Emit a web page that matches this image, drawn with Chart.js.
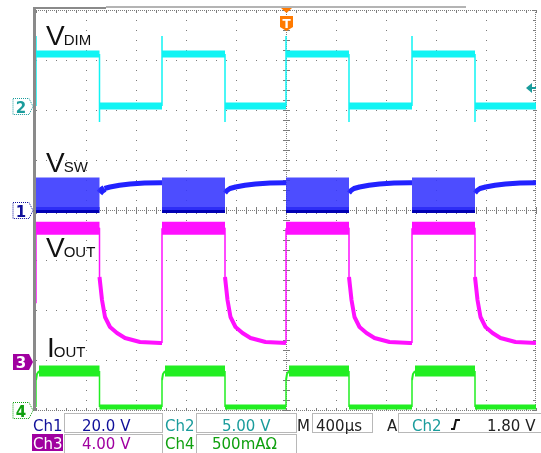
<!DOCTYPE html>
<html>
<head>
<meta charset="utf-8">
<script src="https://cdn.jsdelivr.net/npm/chart.js@4.4.1/dist/chart.umd.min.js"></script>
<style>
  html, body { margin: 0; padding: 0; background: #fff; }
  canvas { display: block; }
</style>
</head>
<body>
<canvas id="scope" width="541" height="453"></canvas>
<script>
// time axis: 400 us/div, 10 div, trigger at centre
const gridCols = [-2000, -1600, -1200, -800, -400, 0, 400, 800, 1200, 1600, 2000];
// vertical divisions, expressed in Ch1 volts (20 V/div, ground at centre)
const gridRows = [-80, -60, -40, -20, 0, 20, 40, 60, 80];

// DIM edges in us
const dimRise = [-2000, -992, 0, 1008];
const dimFall = [-1492, -488, 504, 1512];
const tEnd = 2000;

// Ch2 VDIM, volts
const dimHigh = 5.2;
const dimLow = 0;
const dimOvershoot = 7.0;
const dimUndershoot = -1.6;

// Ch1 VSW, volts
const swBurstTop = 13.0;
const swOffT = [0, 16, 40, 84, 160, 244, 360, 488];      // us after DIM falls
const swOffV = [6.8, 7.8, 8.6, 9.2, 9.9, 10.4, 10.8, 10.9];

// Ch3 VOUT, volts
const outHigh = 10.7;
const outStart = 4.7;
const outDecayT = [0, 20, 44, 84, 140, 204, 324, 488];   // us after DIM falls
const outDecayV = [6.8, 4.96, 3.6, 2.8, 2.32, 1.92, 1.6, 1.52];

// Ch4 IOUT, amps
const ioutHigh = 0.39;
const ioutLow = 0.03;
const ioutRiseT = [0, 8, 24];
const ioutRiseV = [0.3, 0.36, 0.39];

// ---- build traces from the edge lists ----
const nextRise = i => (i + 1 < dimRise.length ? dimRise[i + 1] : tEnd);

const dimPts = [];
const burstPts = [];
const burstBase = [];
const swOffPts = [];
const outPts = [];
const ioutPts = [];

dimRise.forEach((r, i) => {
  const f = dimFall[i], n = nextRise(i);
  dimPts.push({x: r, y: dimLow}, {x: r, y: dimOvershoot}, {x: r, y: dimHigh},
              {x: f, y: dimHigh}, {x: f, y: dimUndershoot}, {x: f, y: dimLow}, {x: n, y: dimLow});

  burstPts.push({x: r, y: 0}, {x: r, y: swBurstTop}, {x: f, y: swBurstTop}, {x: f, y: 0});
  burstBase.push({x: r, y: 0}, {x: f, y: 0}, {x: f, y: null});

  swOffT.forEach((t, k) => { if (f + t < n) swOffPts.push({x: f + t, y: swOffV[k]}); });
  swOffPts.push({x: n, y: swOffV[swOffV.length - 1]}, {x: n, y: null});

  if (i === 0) outPts.push({x: r, y: outStart});
  outPts.push({x: r, y: outHigh}, {x: f, y: outHigh});
  outDecayT.forEach((t, k) => { if (f + t < n) outPts.push({x: f + t, y: outDecayV[k]}); });
  outPts.push({x: n, y: outDecayV[outDecayV.length - 1]});

  ioutPts.push({x: r, y: ioutLow});
  ioutRiseT.forEach((t, k) => ioutPts.push({x: r + t, y: ioutRiseV[k]}));
  ioutPts.push({x: f, y: ioutHigh}, {x: f, y: ioutLow}, {x: n, y: ioutLow});
});

const isVert = c => c.p0.parsed.x === c.p1.parsed.x;

// ---- decorations: graticule, channel markers, labels, status bar ----
const scopeFrame = {
  id: 'scopeFrame',
  beforeDatasetsDraw(chart) {
    const {ctx, chartArea: a, scales} = chart;
    const cols = gridCols.map(v => Math.round(scales.x.getPixelForValue(v)));
    const rows = gridRows.map(v => Math.round(scales.y1.getPixelForValue(v)));
    const cx = cols[5], cy = rows[4];
    ctx.save();
    ctx.fillStyle = '#7c7c7c';
    cols.slice(1, -1).forEach(x => {
      if (x === cx) return;
      for (let y = a.top; y <= a.bottom; y += 10) ctx.fillRect(x, y, 1, 1);
    });
    rows.slice(1, -1).forEach(y => {
      if (y === cy) return;
      for (let x = a.left; x <= a.right; x += 10) ctx.fillRect(x, y, 1, 1);
    });
    // centre cross with minor ticks
    for (let y = a.top; y <= a.bottom; y += 2) ctx.fillRect(cx, y, 1, 1);
    for (let y = a.top; y <= a.bottom; y += 10) ctx.fillRect(cx - 3, y, 7, 1);
    for (let x = a.left; x <= a.right; x += 2) ctx.fillRect(x, cy, 1, 1);
    for (let x = a.left; x <= a.right; x += 10) ctx.fillRect(x, cy - 3, 1, 7);
    // edges
    for (let x = a.left; x <= a.right; x += 2) { ctx.fillRect(x, a.top, 1, 1); ctx.fillRect(x, a.bottom, 1, 1); }
    for (let x = a.left; x <= a.right; x += 10) { ctx.fillRect(x, a.top, 1, 3); ctx.fillRect(x, a.bottom - 2, 1, 3); }
    for (let y = a.top; y <= a.bottom; y += 2) ctx.fillRect(a.right - 1, y, 1, 1);
    for (let y = a.top; y <= a.bottom; y += 10) ctx.fillRect(a.right - 3, y, 3, 1);
    ctx.fillStyle = '#8a8a8a';
    ctx.fillRect(a.left - 3, a.top - 3, 3, a.bottom - a.top + 4);
    ctx.fillRect(a.left - 3, a.top - 3, 73, 2);
    ctx.fillStyle = '#b4b4b4';
    ctx.fillRect(a.left + 70, a.top - 4, 360, 2);
    ctx.restore();
  },
  afterDatasetsDraw(chart) {
    const {ctx, chartArea: a, scales} = chart;
    ctx.save();
    // waveform names
    const label = (big, small, x, y) => {
      ctx.fillStyle = '#111';
      ctx.font = '28px "Liberation Sans", Arial, sans-serif';
      ctx.fillText(big, x, y);
      const w = ctx.measureText(big).width;
      ctx.font = '15px "Liberation Sans", Arial, sans-serif';
      ctx.fillText(small, x + w - 1, y);
    };
    label('V', 'DIM', 46, 45);
    label('V', 'SW', 46, 172);
    label('V', 'OUT', 46, 257);
    label('I', 'OUT', 47, 357);

    // ground markers on the left
    const marker = (txt, yPix, color, filled) => {
      const x0 = 13, x1 = 29, tip = 33, h = 8;
      ctx.beginPath();
      ctx.moveTo(x0, yPix - h); ctx.lineTo(x1, yPix - h); ctx.lineTo(tip, yPix);
      ctx.lineTo(x1, yPix + h); ctx.lineTo(x0, yPix + h); ctx.closePath();
      if (filled) { ctx.fillStyle = color; ctx.fill(); }
      else { ctx.setLineDash([1, 1]); ctx.strokeStyle = color; ctx.lineWidth = 1; ctx.stroke(); ctx.setLineDash([]); }
      ctx.fillStyle = filled ? '#fff' : color;
      ctx.font = 'bold 15px "DejaVu Sans", sans-serif';
      ctx.textAlign = 'center';
      ctx.fillText(txt, 21, yPix + 6);
      ctx.textAlign = 'left';
    };
    marker('2', Math.round(scales.y2.getPixelForValue(0)) + 0.5, '#1a9c9c', false);
    marker('1', Math.round(scales.y1.getPixelForValue(0)) + 0.5, '#10109a', false);
    marker('3', Math.round(scales.y3.getPixelForValue(0)), '#a000a0', true);
    marker('4', Math.round(scales.y4.getPixelForValue(0)) + 0.5, '#10a010', false);

    // trigger position marker
    const tx = Math.round(scales.x.getPixelForValue(0));
    ctx.fillStyle = '#ff7a00';
    ctx.beginPath(); ctx.moveTo(tx - 5, 8); ctx.lineTo(tx + 6, 8); ctx.lineTo(tx + 0.5, 13); ctx.closePath(); ctx.fill();
    ctx.beginPath();
    ctx.moveTo(tx - 6, 16); ctx.lineTo(tx + 7, 16); ctx.lineTo(tx + 7, 27); ctx.lineTo(tx + 0.5, 31);
    ctx.lineTo(tx - 6, 27); ctx.closePath(); ctx.fill();
    ctx.fillStyle = '#fff';
    ctx.font = 'bold 12px "DejaVu Sans", sans-serif';
    ctx.textAlign = 'center';
    ctx.fillText('T', tx + 0.5, 28);
    ctx.textAlign = 'left';

    // trigger level arrow (Ch2, 1.80 V)
    const ty = Math.round(scales.y2.getPixelForValue(1.8));
    ctx.fillStyle = '#1a9c9c';
    ctx.beginPath(); ctx.moveTo(a.right - 10, ty); ctx.lineTo(a.right - 4, ty - 5); ctx.lineTo(a.right - 4, ty + 5); ctx.closePath(); ctx.fill();
    ctx.fillRect(a.right - 4, ty - 1, 4, 2);
    ctx.restore();
  },
  afterDraw(chart) {
    const {ctx} = chart;
    ctx.save();
    ctx.strokeStyle = '#b8b8b8';
    ctx.lineWidth = 1;
    const box = (x0, y0, x1, y1) => ctx.strokeRect(x0 + 0.5, y0 + 0.5, x1 - x0, y1 - y0);
    box(64, 413, 162, 432); box(196, 413, 296, 432); box(312, 413, 372, 432); box(398, 413, 545, 432);
    box(64, 434, 162, 455); box(196, 434, 296, 455);
    ctx.fillStyle = '#a000a0';
    ctx.fillRect(32, 434, 31, 17);
    ctx.font = '15px "DejaVu Sans", sans-serif';
    const txt = (s, x, y, c) => { ctx.fillStyle = c; ctx.fillText(s, x, y); };
    txt('Ch1', 33, 431, '#10109a');
    txt('20.0 V', 82, 431, '#10109a');
    txt('Ch2', 165, 431, '#1a9c9c');
    txt('5.00 V', 222, 431, '#1a9c9c');
    txt('M', 297, 431, '#222');
    txt('400µs', 316, 431, '#222');
    txt('A', 387, 431, '#222');
    txt('Ch2', 412, 431, '#1a9c9c');
    txt('1.80 V', 487, 431, '#222');
    txt('Ch3', 33, 449, '#fff');
    txt('4.00 V', 82, 449, '#a000a0');
    txt('Ch4', 165, 449, '#10a010');
    txt('500mAΩ', 212, 449, '#10a010');
    // rising edge symbol
    ctx.strokeStyle = '#111';
    ctx.lineWidth = 2;
    ctx.beginPath(); ctx.moveTo(451, 429); ctx.lineTo(454, 429); ctx.lineTo(456, 420); ctx.lineTo(460, 420); ctx.stroke();
    ctx.restore();
  }
};

const hidden = (min, max) => ({type: 'linear', min, max, display: false});

new Chart(document.getElementById('scope'), {
  type: 'line',
  data: {
    datasets: [
      {
        label: 'VSW burst', data: burstPts, yAxisID: 'y1',
        borderWidth: 0, backgroundColor: 'rgba(52,52,255,0.88)', fill: 'origin', clip: 0
      },
      {
        label: 'VSW base', data: burstBase, yAxisID: 'y1',
        borderColor: '#0000b4', borderWidth: 6, borderCapStyle: 'butt', spanGaps: false, clip: 0
      },
      {
        label: 'VSW off', data: swOffPts, yAxisID: 'y1',
        borderColor: '#2222ff', borderWidth: 5, borderCapStyle: 'butt', borderJoinStyle: 'round', spanGaps: false, clip: 0,
        segment: {borderWidth: c => (c.p0.parsed.x - dimFall.find(f => f <= c.p0.parsed.x) < 40 ? 7 : 5)}
      },
      {
        label: 'VDIM', data: dimPts, yAxisID: 'y2',
        borderColor: '#10f4f4', borderWidth: 7, borderCapStyle: 'butt', borderJoinStyle: 'bevel', clip: 0,
        segment: {borderWidth: c => (isVert(c) ? 1.5 : 7)}
      },
      {
        label: 'VOUT', data: outPts, yAxisID: 'y3',
        borderColor: '#ff10ff', borderWidth: 4, borderCapStyle: 'butt', borderJoinStyle: 'round', clip: 0,
        segment: {borderWidth: c => (isVert(c) ? 1.5 : (c.p0.parsed.y === outHigh && c.p1.parsed.y === outHigh ? 13 : 4))}
      },
      {
        label: 'IOUT', data: ioutPts, yAxisID: 'y4',
        borderColor: '#22ee22', borderWidth: 5, borderCapStyle: 'butt', borderJoinStyle: 'bevel', clip: 0,
        segment: {borderWidth: c => (isVert(c) ? 1.5 : (c.p0.parsed.y === ioutHigh && c.p1.parsed.y === ioutHigh ? 11 : (c.p0.parsed.y === ioutLow ? 5 : 2)))}
      }
    ]
  },
  options: {
    responsive: false,
    devicePixelRatio: 1,
    animation: false,
    layout: {padding: {left: 36, top: 10, right: 5, bottom: 43}},
    elements: {point: {radius: 0}, line: {tension: 0}},
    plugins: {legend: {display: false}, tooltip: {enabled: false}},
    scales: {
      x: hidden(-2000, 2000),
      y1: hidden(-80, 80),
      y2: hidden(-30.4, 9.6),
      y3: hidden(-3.84, 28.16),
      y4: hidden(0, 4)
    }
  },
  plugins: [scopeFrame]
});
</script>
</body>
</html>
